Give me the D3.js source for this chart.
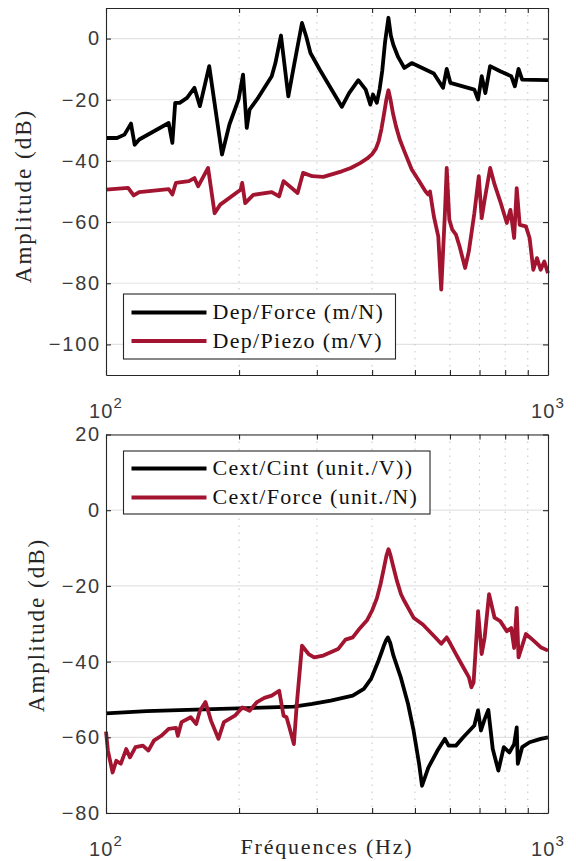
<!DOCTYPE html>
<html><head><meta charset="utf-8">
<script src="https://cdn.jsdelivr.net/npm/d3@7"></script>
<style>body{margin:0;background:#fff} svg{display:block}</style>
</head><body>
<svg id="c" width="576" height="861"></svg>
<script>
// ---------- data ----------
const freqTicks = [100,200,300,400,500,600,700,800,900,1000];
const xTickLabels = [{f:100, base:"10", exp:"2"}, {f:1000, base:"10", exp:"3"}];
const yTicksTop = [0,-20,-40,-60,-80,-100];
const yTicksBottom = [20,0,-20,-40,-60,-80];
const seriesNamesTop = ["Dep/Force (m/N)", "Dep/Piezo (m/V)"];
const seriesNamesBottom = ["Cext/Cint (unit./V))", "Cext/Force (unit./N)"];

// [frequency Hz, amplitude dB]
const depForce = [[100,-32.5],[105.9,-32.5],[110.1,-31.4],[113.9,-27.8],[116.1,-34.7],[118.9,-33.0],[138.6,-27.6],[141.3,-34.1],[143.4,-21.0],[146.8,-21.0],[152.5,-19.4],[158.5,-16.1],[163.1,-22.1],[171.2,-9.0],[183.0,-37.9],[190.2,-28.1],[199.5,-19.9],[204.2,-11.8],[208.2,-29.2],[211.3,-23.2],[219.6,-19.9],[237.1,-12.3],[241.7,-8.0],[248.8,1.0],[258.5,-18.9],[266.1,-9.0],[277.6,5.1],[284,0.5],[290.1,-4.7],[304.4,-10.1],[341.6,-22.3],[354.8,-17.8],[372.3,-13.6],[386.9,-16.7],[396.4,-21.6],[401.8,-18.3],[409.9,-21.0],[416,-16.5],[421.7,-10.5],[428,-1.0],[435.5,6.8],[441,1.0],[446.7,-2.0],[458,-6.0],[473.2,-9.6],[491.7,-8.0],[551.7,-11.4],[578.8,-16.1],[590.0,-9.9],[601.5,-14.5],[681.3,-16.7],[694.6,-19.9],[707.9,-12.3],[721.6,-17.8],[739.6,-9.0],[779.6,-10.7],[825.7,-12.3],[841.4,-15.6],[857.7,-9.9],[874.2,-13.4],[1000,-13.6]];

const depPiezo = [[100,-49.4],[112.2,-48.8],[115.5,-51.3],[118.9,-50.2],[138.6,-49.2],[141.3,-51.0],[143.9,-47.2],[154.0,-46.6],[158.5,-45.6],[161.6,-48.3],[170.2,-42.3],[176.1,-57.1],[181.3,-54.3],[201.6,-49.4],[203.3,-47.2],[206.5,-53.8],[215.4,-51.1],[237.1,-50.2],[246.4,-51.6],[252.2,-46.6],[271.3,-50.5],[279.2,-43.9],[292.9,-45.0],[310.2,-45.2],[341.6,-43.4],[358,-42.3],[375.8,-40.7],[390,-39.2],[400,-37.8],[408,-36.0],[414,-33.5],[420,-29.5],[426,-24.3],[431,-19.8],[435.5,-16.9],[440,-19.8],[446,-24.5],[453,-28.7],[462,-33.0],[473,-36.8],[491.7,-42.8],[510.9,-46.6],[528,-49.9],[535.8,-51.0],[540.8,-50.0],[551.7,-58.1],[564.6,-64.7],[573.4,-82.1],[584.5,-57.1],[590.0,-42.3],[598.0,-59.2],[607.3,-62.5],[619.1,-64.1],[631.0,-68.0],[649.4,-75.0],[662.0,-69.6],[681.3,-57.1],[697.3,-45.0],[707.9,-58.7],[718.9,-52.7],[739.8,-42.3],[757.0,-47.7],[779.6,-53.2],[806.9,-60.3],[822.2,-56.0],[838.3,-65.2],[849.6,-48.9],[862.9,-60.9],[891.3,-61.4],[908.6,-65.2],[926.3,-75.6],[944.1,-71.8],[962.4,-75.6],[981.0,-72.9],[1000,-76.7]];

const cextCint = [[100,-53.7],[123.5,-53.1],[181.3,-52.5],[266.1,-51.9],[292.9,-51.2],[322.4,-50.3],[361.6,-49.0],[383.1,-47.2],[390.4,-45.9],[398.1,-44.5],[405.9,-42.1],[413.7,-39.7],[420,-37.6],[425.9,-35.6],[430,-34.4],[434.1,-33.6],[439.5,-35.0],[446.7,-38.3],[464.2,-44.1],[482.4,-51.2],[496.4,-58.2],[510.9,-67.0],[518.8,-72.8],[536.1,-68.0],[562.3,-63.5],[584.5,-60.4],[595.7,-62.2],[619.1,-62.2],[643.1,-60.0],[681.3,-56.9],[694.6,-52.9],[705.2,-58.2],[718.9,-55.2],[732.8,-52.8],[749.9,-63.1],[772.1,-68.8],[794.3,-62.6],[817.5,-64.0],[838.3,-61.8],[849.6,-57.4],[854.5,-67.0],[874.2,-62.6],[908.6,-61.3],[962.4,-60.4],[1000,-60.0]];

const cextForce = [[100,-58.5],[101.0,-63.5],[103.5,-69.3],[105.5,-66.2],[108.0,-67.0],[111.1,-63.1],[113.3,-65.3],[116.6,-62.6],[121.2,-62.2],[124.7,-63.5],[128.3,-60.9],[133.4,-59.6],[138.6,-57.8],[144.0,-57.5],[145.4,-59.6],[148.2,-56.0],[155.5,-54.7],[160.0,-56.5],[163.1,-53.0],[167.9,-50.7],[172.8,-55.6],[179.6,-60.4],[184.8,-56.0],[195.7,-54.3],[203.4,-52.1],[211.3,-53.0],[219.6,-50.7],[228.2,-49.6],[237.1,-49.0],[246.5,-47.7],[252.2,-54.3],[256.1,-54.7],[260.0,-57.4],[266.1,-61.8],[270.2,-51.2],[277.6,-35.8],[287.3,-38.0],[295.7,-38.9],[310.2,-38.4],[335.0,-36.7],[348.2,-34.2],[361.6,-33.6],[375.8,-31.1],[390,-29.0],[400,-26.5],[410,-23.3],[418,-19.5],[425,-15.5],[431,-12.0],[435.7,-10.3],[440,-11.8],[446,-14.6],[455,-18.6],[465,-22.2],[473.2,-24.0],[496.4,-28.4],[521.0,-30.2],[556.9,-33.7],[573.4,-35.3],[590.0,-33.6],[601.5,-35.3],[619.1,-38.0],[643.1,-41.5],[662.0,-44.1],[671.0,-46.8],[678.7,-45.5],[694.6,-26.7],[707.9,-38.0],[718.9,-33.7],[735.6,-22.2],[757.0,-28.4],[779.6,-29.3],[806.9,-32.0],[825.7,-31.1],[838.3,-36.4],[849.6,-25.8],[857.7,-38.9],[891.3,-32.7],[926.3,-34.4],[962.4,-36.2],[1000,-37.1]];

// ---------- drawing ----------
const BLACK = "#000000", RED = "#A2142F", AXC = "#262626";
const SANS = "Liberation Sans, Arial, sans-serif", SERIF = "Liberation Serif, Times New Roman, serif";
const svg = d3.select("#c");
const x = d3.scaleLog().domain([100, 1000]).range([106, 548]);
const fmt = d => d < 0 ? "\u2212" + Math.abs(d) : String(d);

function panel(cfg) {
  const y = d3.scaleLinear().domain(cfg.domain).range([cfg.y1, cfg.y0]);
  const g = svg.append("g");
  const [x0, x1] = x.range();

  g.append("g").selectAll("line").data(cfg.yTicks).join("line")
    .attr("x1", x0).attr("x2", x1).attr("y1", d => y(d)).attr("y2", d => y(d))
    .attr("stroke", "#e3e3e3").attr("stroke-width", 1.2);
  g.append("g").selectAll("line").data(freqTicks.slice(1, -1)).join("line")
    .attr("x1", d => x(d)).attr("x2", d => x(d)).attr("y1", cfg.y0).attr("y2", cfg.y1)
    .attr("stroke", "#c4c4c4").attr("stroke-width", 1).attr("stroke-dasharray", "1.5,5.5");

  const line = d3.line().x(d => x(d[0])).y(d => y(d[1]));
  cfg.series.forEach(s => {
    g.append("path").datum(s.data).attr("d", line)
      .attr("fill", "none").attr("stroke", s.color).attr("stroke-width", 3.8)
      .attr("stroke-linejoin", "round").attr("stroke-linecap", "butt");
  });

  const styleAxis = sel => {
    sel.selectAll(".domain").attr("stroke", AXC).attr("stroke-width", 1.1);
    sel.selectAll(".tick line").attr("stroke", AXC).attr("stroke-width", 1.1);
  };
  const left = g.append("g").attr("transform", `translate(${x0},0)`)
    .call(d3.axisLeft(y).tickValues(cfg.yTicks).tickSize(-5).tickSizeOuter(0).tickPadding(5).tickFormat(fmt));
  styleAxis(left);
  left.selectAll(".tick text").attr("font-family", SANS)
    .attr("font-size", 20).attr("fill", "#3a3a3a").attr("letter-spacing", "1.8px");
  const right = g.append("g").attr("transform", `translate(${x1},0)`)
    .call(d3.axisRight(y).tickValues(cfg.yTicks).tickSize(-5).tickSizeOuter(0).tickFormat(""));
  styleAxis(right);
  const bottom = g.append("g").attr("transform", `translate(0,${cfg.y1})`)
    .call(d3.axisBottom(x).tickValues(freqTicks).tickSize(-5).tickSizeOuter(0).tickFormat(""));
  styleAxis(bottom);
  const top = g.append("g").attr("transform", `translate(0,${cfg.y0})`)
    .call(d3.axisTop(x).tickValues(freqTicks).tickSize(-5).tickSizeOuter(0).tickFormat(""));
  styleAxis(top);

  xTickLabels.forEach(t => {
    const tx = g.append("text").attr("x", x(t.f)).attr("y", cfg.xLabY)
      .attr("text-anchor", "middle").attr("font-family", SANS)
      .attr("font-size", 20).attr("fill", "#3a3a3a").attr("letter-spacing", "1.2px");
    tx.append("tspan").text(t.base);
    tx.append("tspan").attr("dy", -10).attr("font-size", 15).text(t.exp);
  });

  g.append("text").attr("transform", `translate(${cfg.yTitleX},${cfg.yTitleY}) rotate(-90)`)
    .attr("text-anchor", "middle").attr("font-family", SERIF)
    .attr("font-size", 23).attr("letter-spacing", "2px").attr("fill", "#262626")
    .text("Amplitude (dB)");

  const L = cfg.legend;
  const lg = g.append("g");
  lg.append("rect").attr("x", L.x).attr("y", L.y).attr("width", L.w).attr("height", L.h)
    .attr("fill", "#fff").attr("stroke", AXC).attr("stroke-width", 1.1);
  cfg.series.forEach((s, i) => {
    const ly = L.y + L.row0 + i * L.dy;
    lg.append("line").attr("x1", L.x + 8).attr("x2", L.x + 83).attr("y1", ly).attr("y2", ly)
      .attr("stroke", s.color).attr("stroke-width", 4.2);
    lg.append("text").attr("x", L.x + 89).attr("y", ly + 6.5)
      .attr("font-family", SERIF).attr("font-size", 22)
      .attr("letter-spacing", "1.3px").attr("fill", "#111").text(s.name);
  });
  return g;
}

panel({
  y0: 8, y1: 375, domain: [-110, 10], yTicks: yTicksTop, xLabY: 418,
  yTitleX: 31, yTitleY: 196,
  series: [{data: depForce, color: BLACK, name: seriesNamesTop[0]},
           {data: depPiezo, color: RED, name: seriesNamesTop[1]}],
  legend: {x: 123.5, y: 294, w: 272, h: 65, row0: 18.5, dy: 28.5}
});
panel({
  y0: 434.5, y1: 813, domain: [-80, 20], yTicks: yTicksBottom, xLabY: 856,
  yTitleX: 44, yTitleY: 625,
  series: [{data: cextCint, color: BLACK, name: seriesNamesBottom[0]},
           {data: cextForce, color: RED, name: seriesNamesBottom[1]}],
  legend: {x: 123.5, y: 451, w: 306.5, h: 63, row0: 17.5, dy: 29}
});

svg.append("text").attr("x", 327).attr("y", 854).attr("text-anchor", "middle")
  .attr("font-family", SERIF).attr("font-size", 22)
  .attr("letter-spacing", "1.8px").attr("fill", "#262626").text("Fréquences (Hz)");
</script>
</body></html>
